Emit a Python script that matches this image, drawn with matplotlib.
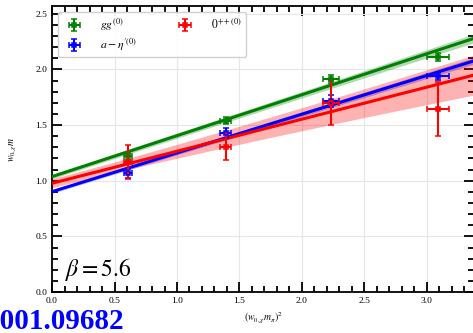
import numpy as np
import matplotlib
matplotlib.use("Agg")
import matplotlib.pyplot as plt

plt.rcParams["font.family"] = "serif"
plt.rcParams["font.serif"] = ["Liberation Serif", "DejaVu Serif"]
plt.rcParams["mathtext.fontset"] = "stix"

# data points: (w0 m_pi)^2 and w0 m
x_pts = [0.607, 1.39, 2.235, 3.09]
x_err = [0.03, 0.045, 0.063, 0.088]

gg_y = [1.22, 1.54, 1.915, 2.115]
gg_yerr = [0.03, 0.03, 0.035, 0.035]

eta_y = [1.067, 1.427, 1.717, 1.94]
eta_yerr = [0.04, 0.045, 0.05, 0.035]

opp_y = [1.17, 1.307, 1.70, 1.643]
opp_yerr = [0.15, 0.125, 0.2, 0.24]

# linear fits: intercept, slope, and band half-width at x=0 and x=3.38
gg_fit = (1.037, 0.368, 0.02, 0.04)
eta_fit = (0.902, 0.348, 0.015, 0.03)
opp_fit = (0.977, 0.288, 0.04, 0.18)

series = [
    ("$gg^{(0)}$", x_pts, gg_y, gg_yerr, gg_fit, "green"),
    ("$a-\\eta^{\\prime(0)}$", x_pts, eta_y, eta_yerr, eta_fit, "blue"),
    ("$0^{++(0)}$", x_pts, opp_y, opp_yerr, opp_fit, "red"),
]

fig = plt.figure(figsize=(4.73, 3.33), dpi=100)
ax = fig.add_axes([0.110, 0.123, 0.893, 0.859])

xmax = 3.38
xs = np.linspace(0, xmax, 100)
for label, x, y, yerr, fit, color in series:
    a, b, e0, e1 = fit
    line = a + b * xs
    band = e0 + (e1 - e0) * (xs / xmax) ** 1.5
    ax.fill_between(xs, line - band, line + band, color=color, alpha=0.3,
                    linewidth=0, zorder=2)
    ax.plot(xs, line, color=color, lw=2.2, zorder=3)

for label, x, y, yerr, fit, color in series:
    ax.errorbar(x, y, yerr=yerr, xerr=x_err, fmt="s", ms=3, mfc="none",
                mec=color, mew=1.1, color=color, elinewidth=1.5, capsize=2.5,
                capthick=1.5, label=label, zorder=4)

ax.set_xlim(0, xmax)
ax.set_ylim(0, 2.57)
ax.set_xticks([0.0, 0.5, 1.0, 1.5, 2.0, 2.5, 3.0])
ax.set_yticks([0.0, 0.5, 1.0, 1.5, 2.0, 2.5])
ax.set_xticks(np.arange(0, 3.4, 0.1), minor=True)
ax.set_yticks(np.arange(0, 2.57, 0.1), minor=True)
ax.tick_params(which="both", direction="in", top=True, right=True,
               labelsize=6.8, width=1.3)
ax.tick_params(which="major", length=7)
ax.tick_params(which="minor", length=4)
for s in ax.spines.values():
    s.set_linewidth(1.3)
ax.grid(True, color="#e6e6e6", lw=0.8, zorder=0)

ax.set_xlabel("$(w_{0,\\chi} m_\\pi)^2$", fontsize=7, labelpad=4)
ax.set_ylabel("$w_{0,\\chi} m$", fontsize=7, labelpad=12)

ax.text(0.03, 0.055, "$\\beta = 5.6$", transform=ax.transAxes, fontsize=17)

ax.legend(loc="upper left", ncol=2, fontsize=8.5, frameon=True,
          framealpha=0.9, edgecolor="#cccccc", columnspacing=3.0,
          handletextpad=1.2, borderpad=0.4, labelspacing=0.3)

# partially clipped arXiv id, as in the source image
fig.text(124 / 473, 4 / 333, "2001.09682", color="blue", fontsize=21,
         fontweight="bold", ha="right", va="baseline")

fig.savefig("out.png", dpi=100)
